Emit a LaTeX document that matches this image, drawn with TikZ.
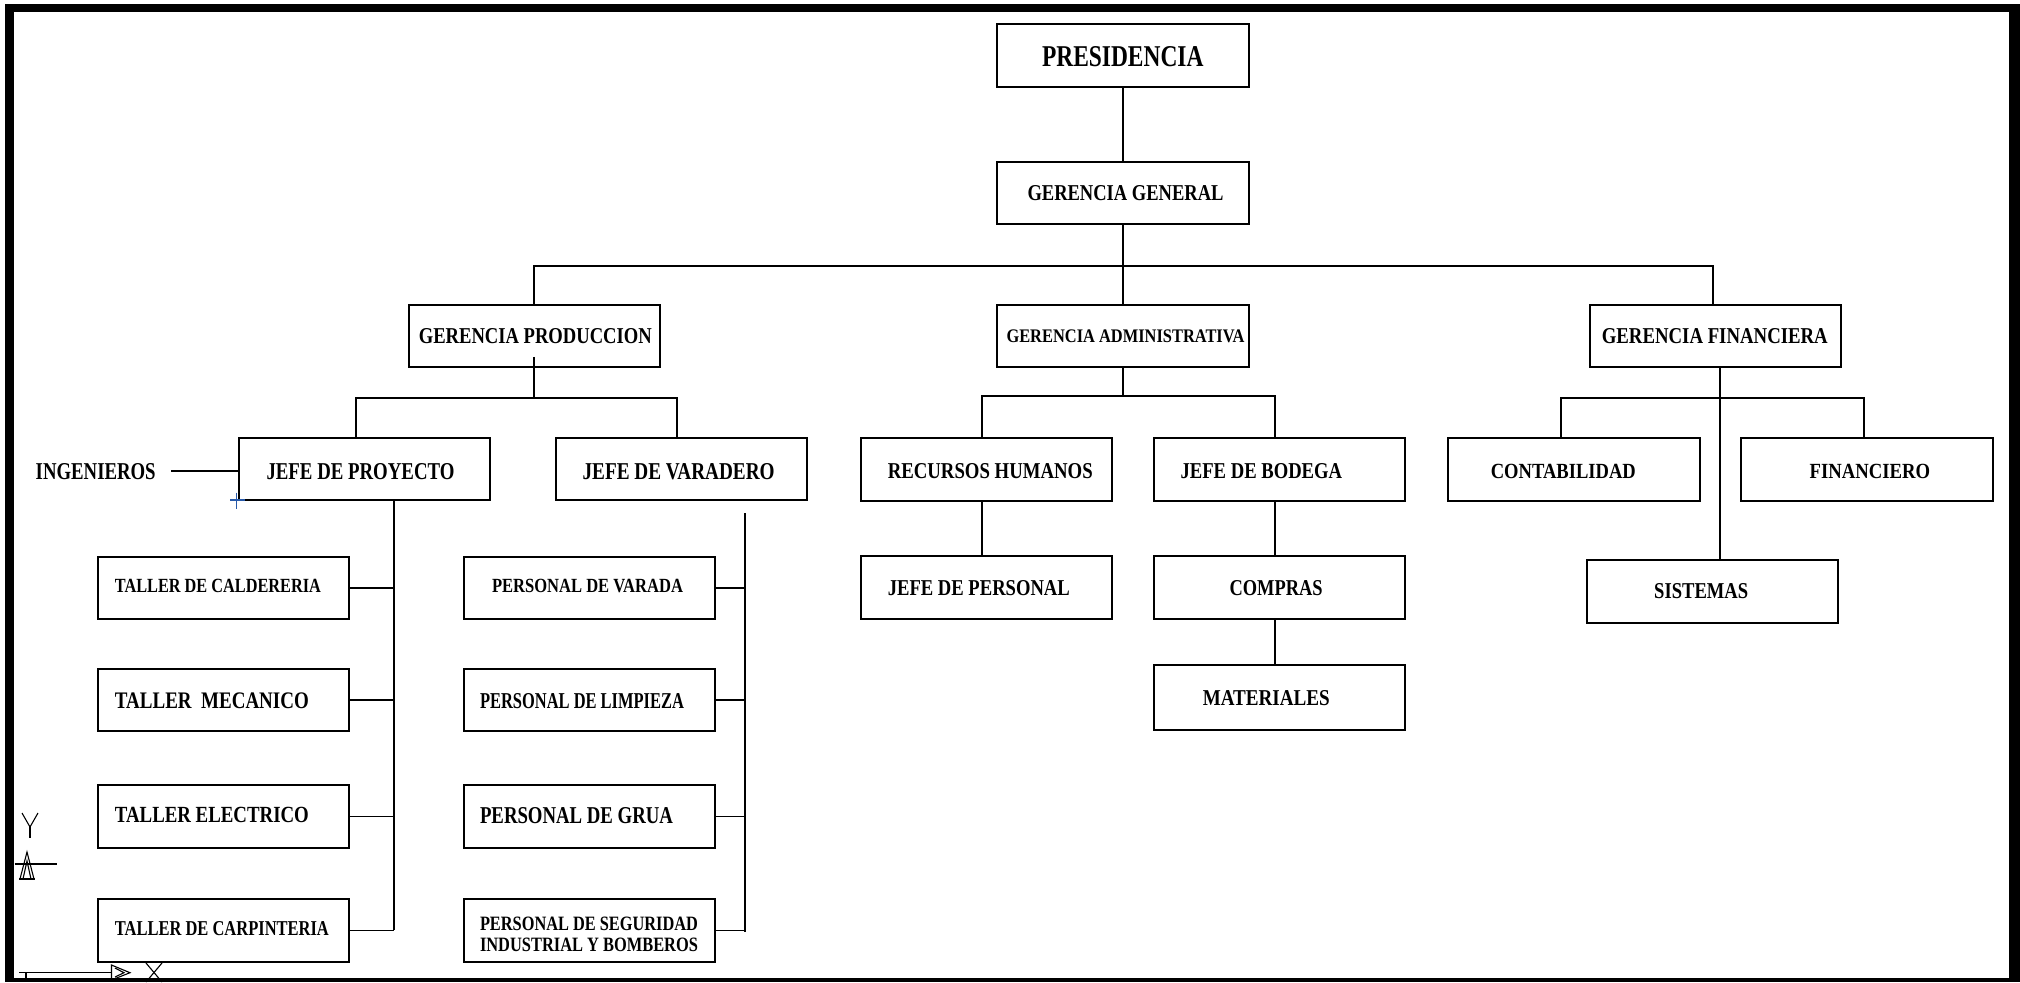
\documentclass[tikz,border=0pt]{standalone}
\usepackage{fontspec}
\setmainfont{Liberation Serif}
\usepackage{graphicx}
\usetikzlibrary{calc}
% one drawing unit = one pixel of the sheet
\newdimen\px \px=0.5pt
% label text squeezed to a given width and cap height
\newcommand{\lab}[3]{\resizebox{#1\px}{#2\px}{\bfseries\raisebox{0pt}[\height][0pt]{#3}}}
\definecolor{ucsblue}{RGB}{40,90,170}
\begin{document}
\begin{tikzpicture}[x=0.5pt, y=-0.5pt,
  box/.style={draw, line width=1pt, minimum width=125.7pt, minimum height=31.25pt, inner sep=0pt, outer sep=0pt},
  txt/.style={inner sep=0pt, outer sep=0pt, anchor=west},
  wire/.style={line width=0.95pt},
  ucs/.style={line width=0.55pt}]
\useasboundingbox (0,0) rectangle (2020,982);
\fill[white] (0,0) rectangle (2020,982);

% sheet frame
\fill[black] (5,4) rectangle (14,982);
\fill[black] (5,4) rectangle (2020,12);
\fill[black] (2009,4) rectangle (2020,982);
\fill[black] (5,978) rectangle (2020,982);

% ---------- boxes ----------
\node[box] (pres)  at (1123,55.4)   {};
\node[box] (gg)    at (1123,193.2)  {};
\node[box] (gprod) at (534.4,336.2) {};
\node[box] (gadm)  at (1123,336)    {};
\node[box] (gfin)  at (1715.7,336)  {};
\node[box] (jproy) at (364.5,469.2) {};
\node[box] (jvar)  at (681.5,469.2) {};
\node[box] (rrhh)  at (986.4,469.5) {};
\node[box] (jbod)  at (1279.2,469.5){};
\node[box] (conta) at (1574,469.5)  {};
\node[box] (finan) at (1866.8,469.5){};
\node[box] (jpers) at (986.4,587.5) {};
\node[box] (compr) at (1279.2,587.5){};
\node[box] (sist)  at (1712.4,591.5){};
\node[box, minimum height=32.3pt] (mater) at (1279.2,697.7){};
\node[box] (tcal)  at (223.2,587.8) {};
\node[box] (tmec)  at (223.2,700.2) {};
\node[box] (telec) at (223.2,816.5) {};
\node[box] (tcarp) at (223.2,930.5) {};
\node[box] (pvar)  at (589.2,587.8) {};
\node[box] (plim)  at (589.2,700.2) {};
\node[box] (pgrua) at (589.2,816.5) {};
\node[box] (pseg)  at (589.2,930.5) {};

% ---------- labels ----------
\node[txt] (pres-t)  at (1042,56.7)   {\lab{161.5}{20}{PRESIDENCIA}};
\node[txt] (gg-t)    at (1027.5,192.5){\lab{196}{15}{GERENCIA GENERAL}};
\node[txt] (gprod-t) at (418.8,335.8) {\lab{233}{15}{GERENCIA PRODUCCION}};
\node[txt] (gadm-t)  at (1006.5,336.3){\lab{238}{12.7}{GERENCIA ADMINISTRATIVA}};
\node[txt] (gfin-t)  at (1601.8,335.8){\lab{226}{15}{GERENCIA FINANCIERA}};
\node[txt] (ing)     at (35.7,471)    {\lab{120}{16}{INGENIEROS}};
\node[txt] (jproy-t) at (266.5,471)   {\lab{188}{16}{JEFE DE PROYECTO}};
\node[txt] (jvar-t)  at (582.6,471)   {\lab{192}{16}{JEFE DE VARADERO}};
\node[txt] (rrhh-t)  at (887.8,470.8) {\lab{205}{15}{RECURSOS HUMANOS}};
\node[txt] (jbod-t)  at (1180.6,470.8){\lab{161.5}{15}{JEFE DE BODEGA}};
\node[txt] (conta-t) at (1490.8,471.2){\lab{145}{14.3}{CONTABILIDAD}};
\node[txt] (finan-t) at (1809.6,471.2){\lab{120.5}{14.3}{FINANCIERO}};
\node[txt] (jpers-t) at (887.8,587.5) {\lab{182}{15}{JEFE DE PERSONAL}};
\node[txt] (compr-t) at (1229.6,587.5){\lab{93}{15}{COMPRAS}};
\node[txt] (sist-t)  at (1654.2,590.8){\lab{94}{15}{SISTEMAS}};
\node[txt] (mater-t) at (1202.8,697.5){\lab{127}{15}{MATERIALES}};
\node[txt] (tcal-t)  at (114.9,586.3) {\lab{206}{13.3}{TALLER DE CALDERERIA}};
\node[txt] (tmec-t)  at (114.9,700.8) {\lab{194}{15.7}{TALLER~~MECANICO}};
\node[txt] (telec-t) at (114.9,815)   {\lab{194}{15.3}{TALLER ELECTRICO}};
\node[txt] (tcarp-t) at (114.9,928.7) {\lab{214}{14}{TALLER DE CARPINTERIA}};
\node[txt] (pvar-t)  at (492,586.3)   {\lab{191}{13.3}{PERSONAL DE VARADA}};
\node[txt] (plim-t)  at (480,701)     {\lab{204}{15}{PERSONAL DE LIMPIEZA}};
\node[txt] (pgrua-t) at (480,815)     {\lab{193}{16}{PERSONAL DE GRUA}};
\node[txt] (pseg-t1) at (480,923.5)   {\lab{218}{13.5}{PERSONAL DE SEGURIDAD}};
\node[txt] (pseg-t2) at (480,945)     {\lab{218}{13.5}{INDUSTRIAL Y BOMBEROS}};

% ---------- connectors ----------
\draw[wire] (pres) -- (gg);
\coordinate (busT) at (1123,266);
\draw[wire] (gg.south) -- (busT);
\draw[wire] (gprod.north) |- (busT) -| ($(gfin.north)+(-3,0)$);
\draw[wire] (busT) -- (gadm.north);

% production branch
\coordinate (busP) at (534.4,397.7);
\draw[wire] ($(gprod.south)+(0,-10.5)$) -- (busP);
\draw[wire] ($(jproy.north)+(-8.7,0)$) |- (busP) -| ($(jvar.north)+(-4.3,0)$);
\draw[line width=1.1pt] ($(ing.east)+(15.3,0)$) -- (ing.east -| jproy.west);

\coordinate (spP) at (393.75,930);
\draw[wire] ($(jproy.south)+(29.25,0)$) -- (spP);
\foreach \b in {tcal,tmec,telec,tcarp}
  \draw[wire] (\b.east) -- (\b.east -| spP);

\coordinate (spV) at (745,932);
\draw[wire] ($(jvar.south)+(63.5,12.6)$) -- (spV);
\foreach \b in {pvar,plim,pgrua,pseg}
  \draw[wire] (\b.east) -- (\b.east -| spV);

% administration branch
\coordinate (busA) at (1123,396);
\draw[wire] (gadm.south) -- (busA);
\draw[wire] ($(rrhh.north)+(-4,0)$) |- (busA) -| ($(jbod.north)+(-4.1,0)$);
\draw[wire] ($(rrhh.south)+(-4,0)$) -- ($(jpers.north)+(-4,0)$);
\draw[wire] ($(jbod.south)+(-4.1,0)$) -- ($(compr.north)+(-4.1,0)$);
\draw[wire] ($(compr.south)+(-4.1,0)$) -- ($(mater.north)+(-4.1,0)$);

% finance branch
\coordinate (busF) at (1719.7,397.7);
\draw[wire] ($(gfin.south)+(4,0)$) -- ($(sist.north)+(7.3,0)$);
\draw[wire] ($(conta.north)+(-12.8,0)$) |- (busF) -| ($(finan.north)+(-2.5,0)$);

% ---------- drawing marks ----------
\draw[ucsblue, line width=0.6pt] (230,500) -- (244.6,500);
\draw[ucsblue, line width=0.6pt] (236.6,492.7) -- (236.6,509.3);

% coordinate system icon
\draw[ucs] (22,813) -- (30,827) -- (38,813);
\draw[ucs] (30,827) -- (30,838);
\draw[ucs] (14.5,864) -- (56.7,864);
\draw[ucs] (20,879) -- (27,852) -- (34,879);
\draw[ucs] (23,879) -- (27,861) -- (31,879);
\draw[ucs] (19,879) -- (35,879);
\draw[ucs] (19.4,972.7) -- (111.5,972.7);
\draw[ucs] (111.5,965) -- (130,972.7) -- (111.5,980) -- cycle;
\draw[ucs] (115,968) -- (124,972.7) -- (115,977);
\draw[ucs] (26,972.7) -- (26,982);
\draw[ucs] (146,963) -- (162,982);
\draw[ucs] (162,963) -- (146,982);
\end{tikzpicture}
\end{document}
